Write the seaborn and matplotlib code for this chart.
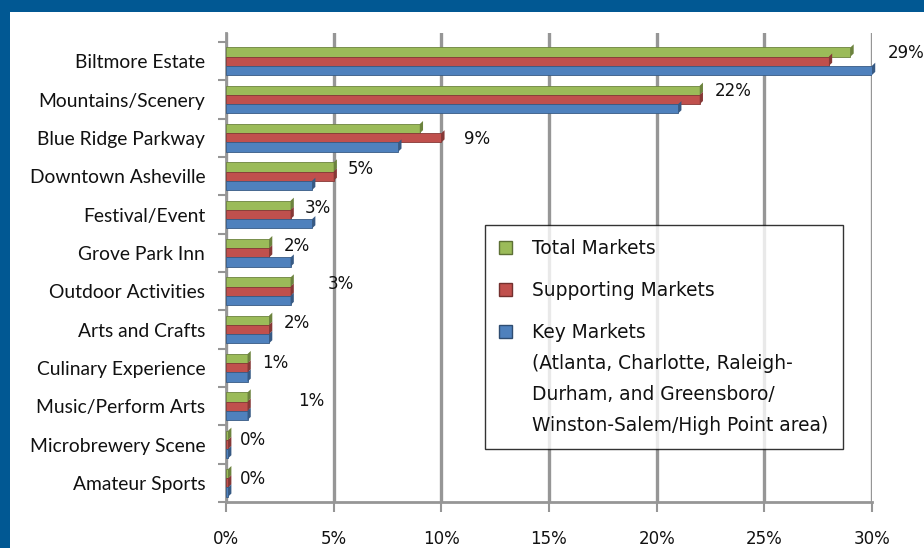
import numpy as np
import pandas as pd
import matplotlib.pyplot as plt
import matplotlib.colors as mcolors
from matplotlib.patches import Patch, Polygon, Rectangle
from matplotlib.ticker import FuncFormatter, FixedLocator
import seaborn as sns

# values (percent)
attractions = ["Biltmore Estate", "Mountains/Scenery", "Blue Ridge Parkway",
               "Downtown Asheville", "Festival/Event", "Grove Park Inn",
               "Outdoor Activities", "Arts and Crafts", "Culinary Experience",
               "Music/Perform Arts", "Microbrewery Scene", "Amateur Sports"]
total_markets = [29, 22, 9, 5, 3, 2, 3, 2, 1, 1, 0.1, 0.1]
supporting_markets = [28, 22, 10, 5, 3, 2, 3, 2, 1, 1, 0.1, 0.1]
key_markets = [30, 21, 8, 4, 4, 3, 3, 2, 1, 1, 0.1, 0.1]
value_labels = ["29%", "22%", "9%", "5%", "3%", "2%", "3%", "2%", "1%", "1%", "0%", "0%"]

series_names = ["Total Markets", "Supporting Markets",
                "Key Markets\n(Atlanta, Charlotte, Raleigh-\nDurham, and Greensboro/\nWinston-Salem/High Point area)"]
series_colors = ["#9BBB59", "#C0504D", "#4F81BD"]

# where Excel dropped the data labels, relative to the Total bar end
label_dx = [1.73, 0.71, 2.07, 0.65, 0.64, 0.68, 1.72, 0.68, 0.70, 2.36, 0.56, 0.56]
label_dy = [-0.22, -0.22, 0.04, -0.2, -0.175, -0.175, -0.2, -0.175, -0.13, -0.13, -0.13, -0.11]

df = pd.DataFrame({
    "attraction": attractions * 3,
    "share": total_markets + supporting_markets + key_markets,
    "market": np.repeat(series_names, len(attractions)),
})

grid_col = "#969696"
fig = plt.figure(figsize=(9.24, 5.48), dpi=100)
ax = fig.add_axes([226 / 924, 46 / 548, 646 / 924, 469 / 548])

sns.barplot(data=df, y="attraction", x="share", hue="market", hue_order=series_names,
            order=attractions, palette=series_colors, orient="h", width=0.72,
            saturation=1, legend=False, ax=ax, zorder=3)

# fake the excel 3d look: darker side on the end of each bar
for p in ax.patches:
    fc = p.get_facecolor()
    dark = tuple(np.array(mcolors.to_rgb(fc)) * 0.7)
    p.set_edgecolor(dark)
    p.set_linewidth(0.6)
    x1 = p.get_x() + p.get_width()
    y0, h = p.get_y(), p.get_height()
    ax.add_patch(Polygon([(x1, y0), (x1 + 0.15, y0 - 0.08), (x1 + 0.15, y0 + h - 0.08), (x1, y0 + h)],
                         closed=True, facecolor=dark, edgecolor="none", zorder=3, clip_on=False))

ax.set_xlim(0, 30)
ax.set_ylim(11.5, -0.735)
ax.set_xlabel("")
ax.set_ylabel("")
ax.xaxis.set_major_locator(FixedLocator([0, 5, 10, 15, 20, 25, 30]))
ax.xaxis.set_major_formatter(FuncFormatter(lambda v, pos: f"{v:.0f}%"))
ax.grid(axis="x", color=grid_col, linewidth=2.4, zorder=0)
ax.grid(axis="y", visible=False)
ax.set_axisbelow(True)

for s in ["top", "right"]:
    ax.spines[s].set_visible(False)
ax.spines["left"].set_color(grid_col)
ax.spines["left"].set_linewidth(2)
ax.spines["bottom"].set_color(grid_col)
ax.spines["bottom"].set_linewidth(2)

ax.yaxis.set_minor_locator(FixedLocator(np.arange(-0.5, 12, 1)))
ax.tick_params(axis="y", which="major", length=0, pad=15, labelsize=13.9, labelcolor="#111111")
ax.tick_params(axis="y", which="minor", length=6, width=1.5, color=grid_col)
ax.tick_params(axis="x", length=7, width=1.5, color=grid_col, pad=13, labelsize=12, labelcolor="#111111")
for t in ax.get_yticklabels():
    t.set_fontfamily("Lato")
for t in ax.get_xticklabels():
    t.set_fontfamily("DejaVu Sans")

for i, lab in enumerate(value_labels):
    ax.text(total_markets[i] + label_dx[i], i + label_dy[i], lab, ha="left", va="center",
            fontsize=12, color="#111111", family="DejaVu Sans", clip_on=False, zorder=5)

handles = [Patch(facecolor=c, edgecolor=tuple(np.array(mcolors.to_rgb(c)) * 0.6), linewidth=1)
           for c in series_colors]
leg = fig.legend(handles, series_names, loc="upper left", bbox_to_anchor=(485 / 924, 1 - 225 / 548),
                 bbox_transform=fig.transFigure, borderaxespad=0, frameon=True, fancybox=False,
                 handlelength=0.7, handleheight=0.7, handletextpad=1.1,
                 labelspacing=1.25, borderpad=0.75, prop={"family": "DejaVu Sans", "size": 13.4})
leg.get_frame().set_edgecolor("black")
leg.get_frame().set_linewidth(1)
leg.get_texts()[2].set_linespacing(1.8)
for t in leg.get_texts():
    t.set_color("#111111")
# keep the key-markets swatch next to the first line of its label
key_handle = leg.legend_handles[2]
key_handle.set_y(key_handle.get_y() + 35)

# blue frame of the slide
fig.patches.append(Rectangle((0, 1 - 12 / 548), 1, 12 / 548, transform=fig.transFigure,
                             facecolor="#015893", edgecolor="none"))
fig.patches.append(Rectangle((0, 0), 10 / 924, 1, transform=fig.transFigure,
                             facecolor="#015893", edgecolor="none"))

fig.savefig("out.png", dpi=100)
